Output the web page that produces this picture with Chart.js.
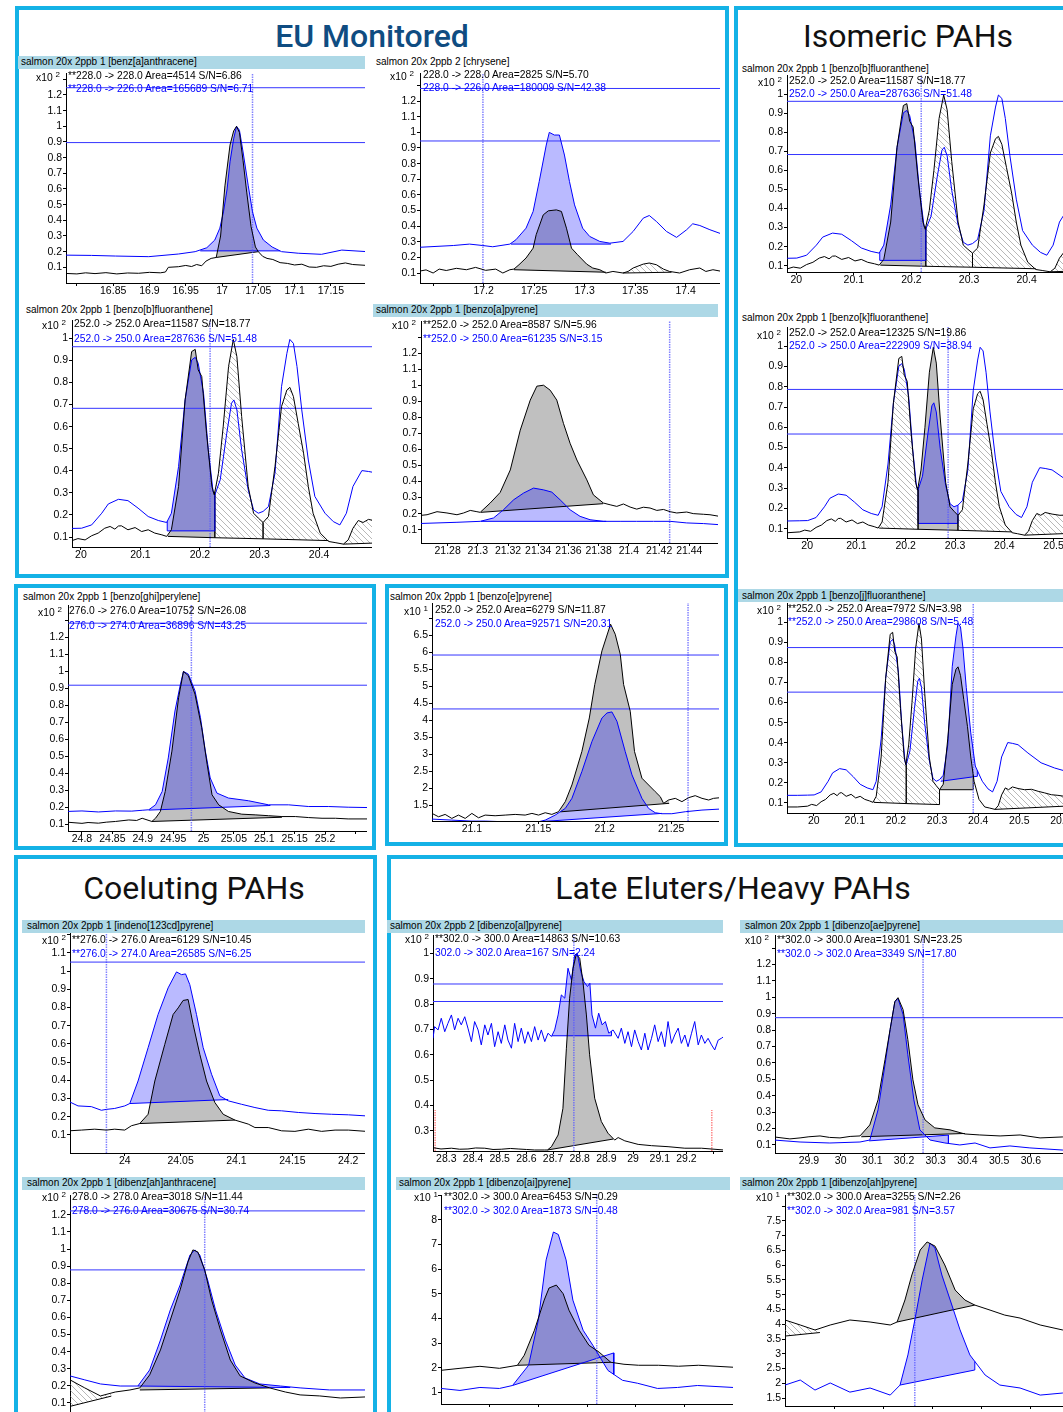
<!DOCTYPE html>
<html>
<head>
<meta charset="utf-8">
<script src="https://cdn.jsdelivr.net/npm/chart.js@4.4.1/dist/chart.umd.min.js"></script>
<style>
  body { margin:0; width:1063px; height:1412px; overflow:hidden; background:#fff; position:relative; font-family:"Liberation Sans", Arial, sans-serif; }
  .box { position:absolute; border:4px solid #14b2e6; box-sizing:border-box; }
  .ttl { position:absolute; font-family:Roboto, sans-serif; font-size:32px; line-height:40px; text-align:center; color:#111; white-space:nowrap; }
  .strip { position:absolute; height:13px; background:#add8e6; }
  .hd { position:absolute; font-size:10px; line-height:12px; white-space:nowrap; color:#000; z-index:3; }
  .an { position:absolute; font-size:10.3px; line-height:12px; white-space:nowrap; color:#000; z-index:3; }
  .an.b { color:#0000ff; }
  .xs { position:absolute; font-size:10.3px; line-height:12px; white-space:nowrap; z-index:3; }
  .xs sup { font-size:8px; vertical-align:4px; line-height:0; }
  canvas { position:absolute; z-index:2; }
</style>
</head>
<body>
<div class="box" style="left:15px;top:6px;width:714px;height:572px"></div>
<div class="box" style="left:734px;top:6px;width:345px;height:841px"></div>
<div class="box" style="left:14px;top:584px;width:362px;height:266px"></div>
<div class="box" style="left:385px;top:584px;width:343px;height:262px"></div>
<div class="box" style="left:14px;top:855px;width:363px;height:570px"></div>
<div class="box" style="left:387px;top:855px;width:692px;height:570px"></div>

<div class="ttl" style="left:15px;width:714px;top:16px;color:#0f4c81;font-weight:500">EU Monitored</div>
<div class="ttl" style="left:734px;width:348px;top:16px">Isomeric PAHs</div>
<div class="ttl" style="left:14px;width:360px;top:868px">Coeluting PAHs</div>
<div class="ttl" style="left:387px;width:692px;top:868px">Late Eluters/Heavy PAHs</div>

<div class="strip" style="left:18px;top:56px;width:347px"></div>
<div class="strip" style="left:373px;top:304px;width:345px"></div>
<div class="strip" style="left:738px;top:589px;width:330px"></div>
<div class="strip" style="left:22px;top:920px;width:343px"></div>
<div class="strip" style="left:387px;top:920px;width:336px"></div>
<div class="strip" style="left:22px;top:1177px;width:343px"></div>
<div class="strip" style="left:740px;top:920px;width:330px"></div>
<div class="strip" style="left:396px;top:1177px;width:334px"></div>
<div class="strip" style="left:740px;top:1177px;width:330px"></div>

<div class="hd" style="left:21px;top:56px">salmon 20x 2ppb 1 [benz[a]anthracene]</div>
<div class="hd" style="left:376px;top:56px">salmon 20x 2ppb 2 [chrysene]</div>
<div class="hd" style="left:26px;top:304px">salmon 20x 2ppb 1 [benzo[b]fluoranthene]</div>
<div class="hd" style="left:376px;top:304px">salmon 20x 2ppb 1 [benzo[a]pyrene]</div>
<div class="hd" style="left:742px;top:63px">salmon 20x 2ppb 1 [benzo[b]fluoranthene]</div>
<div class="hd" style="left:742px;top:312px">salmon 20x 2ppb 1 [benzo[k]fluoranthene]</div>
<div class="hd" style="left:742px;top:590px">salmon 20x 2ppb 1 [benzo[j]fluoranthene]</div>
<div class="hd" style="left:23px;top:591px">salmon 20x 2ppb 1 [benzo[ghi]perylene]</div>
<div class="hd" style="left:390px;top:591px">salmon 20x 2ppb 1 [benzo[e]pyrene]</div>
<div class="hd" style="left:27px;top:920px">salmon 20x 2ppb 1 [indeno[123cd]pyrene]</div>
<div class="hd" style="left:390px;top:920px">salmon 20x 2ppb 2 [dibenzo[al]pyrene]</div>
<div class="hd" style="left:27px;top:1177px">salmon 20x 2ppb 1 [dibenz[ah]anthracene]</div>
<div class="hd" style="left:745px;top:920px">salmon 20x 2ppb 1 [dibenzo[ae]pyrene]</div>
<div class="hd" style="left:399px;top:1177px">salmon 20x 2ppb 1 [dibenzo[ai]pyrene]</div>
<div class="hd" style="left:742px;top:1177px">salmon 20x 2ppb 1 [dibenzo[ah]pyrene]</div>

<div class="xs" style="left:36px;top:72px">x10 <sup>2</sup></div>
<div class="xs" style="left:390px;top:71px">x10 <sup>2</sup></div>
<div class="xs" style="left:42px;top:320px">x10 <sup>2</sup></div>
<div class="xs" style="left:392px;top:320px">x10 <sup>2</sup></div>
<div class="xs" style="left:758px;top:77px">x10 <sup>2</sup></div>
<div class="xs" style="left:757px;top:330px">x10 <sup>2</sup></div>
<div class="xs" style="left:757px;top:605px">x10 <sup>2</sup></div>
<div class="xs" style="left:38px;top:607px">x10 <sup>2</sup></div>
<div class="xs" style="left:404px;top:606px">x10 <sup>1</sup></div>
<div class="xs" style="left:42px;top:935px">x10 <sup>2</sup></div>
<div class="xs" style="left:405px;top:934px">x10 <sup>2</sup></div>
<div class="xs" style="left:42px;top:1192px">x10 <sup>2</sup></div>
<div class="xs" style="left:745px;top:935px">x10 <sup>2</sup></div>
<div class="xs" style="left:414px;top:1192px">x10 <sup>1</sup></div>
<div class="xs" style="left:756px;top:1192px">x10 <sup>1</sup></div>

<div class="an" style="left:68px;top:70px">**228.0 -&gt; 228.0 Area=4514 S/N=6.86</div>
<div class="an b" style="left:68px;top:83px">**228.0 -&gt; 226.0 Area=165689 S/N=6.71</div>
<div class="an" style="left:423px;top:69px">228.0 -&gt; 228.0 Area=2825 S/N=5.70</div>
<div class="an b" style="left:423px;top:82px">228.0 -&gt; 226.0 Area=180009 S/N=42.38</div>
<div class="an" style="left:74px;top:318px">252.0 -&gt; 252.0 Area=11587 S/N=18.77</div>
<div class="an b" style="left:74px;top:333px">252.0 -&gt; 250.0 Area=287636 S/N=51.48</div>
<div class="an" style="left:423px;top:319px">**252.0 -&gt; 252.0 Area=8587 S/N=5.96</div>
<div class="an b" style="left:423px;top:333px">**252.0 -&gt; 250.0 Area=61235 S/N=3.15</div>
<div class="an" style="left:789px;top:75px">252.0 -&gt; 252.0 Area=11587 S/N=18.77</div>
<div class="an b" style="left:789px;top:88px">252.0 -&gt; 250.0 Area=287636 S/N=51.48</div>
<div class="an" style="left:789px;top:327px">252.0 -&gt; 252.0 Area=12325 S/N=19.86</div>
<div class="an b" style="left:789px;top:340px">252.0 -&gt; 250.0 Area=222909 S/N=38.94</div>
<div class="an" style="left:788px;top:603px">**252.0 -&gt; 252.0 Area=7972 S/N=3.98</div>
<div class="an b" style="left:788px;top:616px">**252.0 -&gt; 250.0 Area=298608 S/N=5.48</div>
<div class="an" style="left:69px;top:605px">276.0 -&gt; 276.0 Area=10752 S/N=26.08</div>
<div class="an b" style="left:69px;top:620px">276.0 -&gt; 274.0 Area=36896 S/N=43.25</div>
<div class="an" style="left:435px;top:604px">252.0 -&gt; 252.0 Area=6279 S/N=11.87</div>
<div class="an b" style="left:435px;top:618px">252.0 -&gt; 250.0 Area=92571 S/N=20.31</div>
<div class="an" style="left:72px;top:934px">**276.0 -&gt; 276.0 Area=6129 S/N=10.45</div>
<div class="an b" style="left:72px;top:948px">**276.0 -&gt; 274.0 Area=26585 S/N=6.25</div>
<div class="an" style="left:435px;top:933px">**302.0 -&gt; 300.0 Area=14863 S/N=10.63</div>
<div class="an b" style="left:435px;top:947px">302.0 -&gt; 302.0 Area=167 S/N=2.24</div>
<div class="an" style="left:72px;top:1191px">278.0 -&gt; 278.0 Area=3018 S/N=11.44</div>
<div class="an b" style="left:72px;top:1205px">278.0 -&gt; 276.0 Area=30675 S/N=30.74</div>
<div class="an" style="left:777px;top:934px">**302.0 -&gt; 300.0 Area=19301 S/N=23.25</div>
<div class="an b" style="left:777px;top:948px">**302.0 -&gt; 302.0 Area=3349 S/N=17.80</div>
<div class="an" style="left:444px;top:1191px">**302.0 -&gt; 300.0 Area=6453 S/N=0.29</div>
<div class="an b" style="left:444px;top:1205px">**302.0 -&gt; 302.0 Area=1873 S/N=0.48</div>
<div class="an" style="left:787px;top:1191px">**302.0 -&gt; 300.0 Area=3255 S/N=2.26</div>
<div class="an b" style="left:787px;top:1205px">**302.0 -&gt; 302.0 Area=981 S/N=3.57</div>

<script>
// ---- tick values ----
const yTicks13 = [0.1,0.2,0.3,0.4,0.5,0.6,0.7,0.8,0.9,1,1.1,1.2,1.3];
const yTicks12 = [0.1,0.2,0.3,0.4,0.5,0.6,0.7,0.8,0.9,1,1.1,1.2];
const yTicks10 = [0.1,0.2,0.3,0.4,0.5,0.6,0.7,0.8,0.9,1];
const baaXTicks = [16.8,16.85,16.9,16.95,17,17.05,17.1,17.15];
const chryXTicks = [17.15,17.2,17.25,17.3,17.35,17.4];
const bkfXTicks = [20,20.1,20.2,20.3,20.4,20.5,20.6];
const bapXTicks = [21.28,21.3,21.32,21.34,21.36,21.38,21.4,21.42,21.44];
const ghiXTicks = [24.8,24.85,24.9,24.95,25,25.05,25.1,25.15,25.2,25.25];
const bepXTicks = [21.1,21.15,21.2,21.25];
const bepYTicks = [1.5,2,2.5,3,3.5,4,4.5,5,5.5,6,6.5,7];
const indXTicks = [23.95,24,24.05,24.1,24.15,24.2];
const dbalXTicks = [28.3,28.4,28.5,28.6,28.7,28.8,28.9,29,29.1,29.2,29.3];
const dbalYTicks = [0.3,0.4,0.5,0.6,0.7,0.8,0.9,1];
const dbahXTicks = [24.05,24.1,24.15,24.2,24.25];
const dbaeXTicks = [29.9,30,30.1,30.2,30.3,30.4,30.5,30.6];
const dbaiXTicks = [29.1,29.2,29.3,29.4,29.5];
const dbaiYTicks = [1,2,3,4,5,6,7,8,9];
const dbhpXTicks = [31.1,31.2,31.3,31.4,31.5];
const dbhpYTicks = [1.5,2,2.5,3,3.5,4,4.5,5,5.5,6,6.5,7,7.5,8];

// ---- benz[a]anthracene ----
const baaBlack = [[16.78,0.062],[16.8,0.058],[16.812,0.065],[16.825,0.06],[16.84,0.066],[16.855,0.058],[16.87,0.064],[16.885,0.062],[16.9,0.068],[16.915,0.065],[16.922,0.07],[16.926,0.1],[16.94,0.104],[16.95,0.112],[16.958,0.105],[16.965,0.118],[16.972,0.11],[16.978,0.14],[16.985,0.157],[16.992,0.163],[16.998,0.3],[17.004,0.62],[17.011,0.88],[17.016,0.97],[17.02,1.0],[17.024,0.96],[17.029,0.78],[17.034,0.58],[17.04,0.36],[17.046,0.23],[17.05,0.2],[17.056,0.17],[17.062,0.157],[17.07,0.15],[17.08,0.13],[17.09,0.125],[17.1,0.115],[17.11,0.12],[17.12,0.102],[17.13,0.1],[17.14,0.11],[17.15,0.106],[17.16,0.12],[17.17,0.128],[17.18,0.118],[17.2,0.112]];
const baaBlue = [[16.78,0.178],[16.82,0.176],[16.853,0.172],[16.899,0.168],[16.94,0.185],[16.963,0.2],[16.979,0.225],[16.99,0.274],[16.997,0.35],[17.002,0.454],[17.007,0.6],[17.011,0.773],[17.016,0.92],[17.02,1.0],[17.024,0.975],[17.029,0.836],[17.036,0.624],[17.042,0.454],[17.048,0.35],[17.057,0.274],[17.069,0.23],[17.082,0.2],[17.105,0.19],[17.137,0.183],[17.165,0.21],[17.2,0.2]];
const baaPeaks = [['blue',16.97,17.08,0.205,0.205,'blue'],['black',16.992,17.05,0.163,0.2,'gray']];
const baaLevels = [1.246,0.896];
const baaMarks = [17.042];

// ---- chrysene ----
const chryBlack = [[17.135,0.11],[17.143,0.12],[17.15,0.1],[17.156,0.125],[17.163,0.116],[17.173,0.13],[17.183,0.121],[17.192,0.136],[17.202,0.117],[17.212,0.125],[17.219,0.1],[17.226,0.121],[17.23,0.125],[17.235,0.153],[17.242,0.196],[17.249,0.259],[17.252,0.345],[17.259,0.472],[17.264,0.498],[17.272,0.504],[17.277,0.494],[17.282,0.387],[17.287,0.259],[17.293,0.217],[17.302,0.157],[17.308,0.132],[17.315,0.121],[17.321,0.1],[17.328,0.11],[17.338,0.1],[17.343,0.11],[17.348,0.132],[17.358,0.157],[17.364,0.164],[17.371,0.153],[17.378,0.125],[17.384,0.11],[17.394,0.1],[17.404,0.121],[17.414,0.132],[17.42,0.11],[17.427,0.121],[17.436,0.11]];
const chryBlue = [[17.135,0.264],[17.17,0.276],[17.186,0.285],[17.199,0.276],[17.209,0.268],[17.226,0.285],[17.232,0.313],[17.242,0.387],[17.249,0.494],[17.255,0.685],[17.262,0.919],[17.265,1.0],[17.27,0.983],[17.275,0.983],[17.28,0.855],[17.285,0.685],[17.29,0.536],[17.298,0.387],[17.305,0.334],[17.315,0.302],[17.325,0.291],[17.338,0.302],[17.348,0.366],[17.358,0.451],[17.364,0.468],[17.371,0.43],[17.381,0.366],[17.391,0.328],[17.401,0.377],[17.407,0.415],[17.414,0.404],[17.424,0.377],[17.436,0.349]];
const chryPeaks = [['blue',17.227,17.326,0.285,0.285,'blue'],['black',17.23,17.321,0.121,0.105,'gray'],['black',17.338,17.386,0.1,0.105,'hatch']];
const chryLevels = [1.281,0.945];
const chryMarks = [17.1993];

// ---- benzo[b], [k], [j]fluoranthene (same injection) ----
const bkfBlack = [[19.93,0.08],[19.96,0.08],[19.985,0.084],[19.995,0.093],[20.007,0.087],[20.018,0.106],[20.029,0.118],[20.04,0.14],[20.049,0.148],[20.057,0.136],[20.063,0.15],[20.068,0.151],[20.079,0.133],[20.091,0.143],[20.102,0.125],[20.113,0.133],[20.124,0.118],[20.136,0.11],[20.144,0.103],[20.152,0.133],[20.164,0.329],[20.175,0.721],[20.186,0.94],[20.192,0.95],[20.197,0.857],[20.203,0.827],[20.211,0.57],[20.22,0.329],[20.224,0.291],[20.231,0.389],[20.239,0.6],[20.248,0.872],[20.256,0.995],[20.262,0.917],[20.27,0.646],[20.281,0.329],[20.29,0.208],[20.298,0.186],[20.306,0.166],[20.315,0.193],[20.326,0.419],[20.337,0.691],[20.346,0.766],[20.351,0.778],[20.357,0.736],[20.365,0.615],[20.374,0.48],[20.382,0.329],[20.39,0.208],[20.402,0.118],[20.416,0.08],[20.427,0.075],[20.441,0.068],[20.449,0.087],[20.457,0.14],[20.466,0.175],[20.474,0.166],[20.483,0.18],[20.497,0.172],[20.513,0.166],[20.53,0.168],[20.546,0.158],[20.562,0.15],[20.578,0.141],[20.594,0.138],[20.61,0.133],[20.68,0.125]];
const bkfBlue = [[19.93,0.138],[19.96,0.138],[19.985,0.139],[20.001,0.14],[20.018,0.155],[20.035,0.208],[20.046,0.25],[20.063,0.271],[20.079,0.265],[20.096,0.231],[20.113,0.193],[20.13,0.175],[20.144,0.166],[20.152,0.208],[20.164,0.419],[20.175,0.721],[20.186,0.902],[20.192,0.914],[20.197,0.887],[20.206,0.751],[20.214,0.495],[20.222,0.306],[20.225,0.291],[20.234,0.359],[20.245,0.57],[20.253,0.706],[20.257,0.721],[20.262,0.676],[20.27,0.495],[20.281,0.314],[20.29,0.223],[20.298,0.208],[20.306,0.216],[20.315,0.238],[20.326,0.389],[20.337,0.781],[20.346,0.932],[20.351,0.995],[20.357,0.977],[20.363,0.872],[20.371,0.676],[20.382,0.449],[20.393,0.284],[20.41,0.208],[20.424,0.17],[20.435,0.155],[20.446,0.208],[20.457,0.329],[20.472,0.401],[20.483,0.397],[20.497,0.39],[20.521,0.349],[20.553,0.3],[20.586,0.274],[20.61,0.26],[20.68,0.24]];
const bbfPeaks = [['blue',20.145,20.225,0.128,0.128,'blue'],['black',20.146,20.225,0.103,0.097,'gray'],['black',20.225,20.306,0.097,0.092,'hatch'],['black',20.306,20.416,0.092,0.084,'hatch'],['black',20.441,20.62,0.068,0.085,'hatch']];
const bkfPeaks = [['black',20.146,20.225,0.103,0.097,'hatch'],['black',20.225,20.306,0.097,0.092,'gray'],['blue',20.225,20.306,0.126,0.126,'blue'],['black',20.306,20.416,0.092,0.084,'hatch'],['black',20.441,20.62,0.068,0.085,'hatch']];
const bjfPeaks = [['black',20.146,20.225,0.103,0.097,'hatch'],['black',20.225,20.306,0.097,0.092,'hatch'],['black',20.306,20.388,0.166,0.166,'gray'],['blue',20.309,20.398,0.208,0.233,'blue'],['black',20.441,20.62,0.068,0.085,'hatch']];
const bbfLevels = [0.962,0.683];
const bkfLevels = [0.787,0.567];
const bjfLevels = [0.874,0.652];
const bbfMarks = [20.217];
const bkfMarks = [20.286];
const bjfMarks = [20.388];

// ---- benzo[a]pyrene ----
const bapBlack = [[21.26,0.187],[21.2664,0.193],[21.273,0.212],[21.2796,0.204],[21.2862,0.193],[21.2906,0.204],[21.295,0.22],[21.2994,0.212],[21.3016,0.208],[21.3082,0.266],[21.3148,0.332],[21.3215,0.472],[21.3281,0.72],[21.3347,0.907],[21.3391,0.994],[21.3435,1.0],[21.3479,0.969],[21.3523,0.907],[21.3567,0.762],[21.3611,0.638],[21.3656,0.534],[21.3722,0.41],[21.3765,0.317],[21.3831,0.266],[21.3876,0.255],[21.392,0.245],[21.3964,0.26],[21.4008,0.241],[21.4052,0.228],[21.4096,0.24],[21.414,0.235],[21.4185,0.22],[21.4229,0.226],[21.4273,0.212],[21.4317,0.204],[21.4383,0.21],[21.4426,0.2],[21.4493,0.196],[21.4537,0.193],[21.46,0.183]];
const bapBlue = [[21.26,0.138],[21.2862,0.146],[21.3016,0.152],[21.3104,0.173],[21.317,0.224],[21.3237,0.286],[21.3303,0.328],[21.3369,0.359],[21.3435,0.348],[21.349,0.334],[21.3545,0.286],[21.3611,0.224],[21.3677,0.183],[21.3743,0.162],[21.3831,0.152],[21.3942,0.152],[21.4052,0.152],[21.4163,0.152],[21.4273,0.152],[21.4383,0.142],[21.4493,0.138],[21.46,0.131]];
const bapPeaks = [['blue',21.302,21.385,0.152,0.152,'blue'],['black',21.302,21.383,0.208,0.262,'gray']];
const bapLevels = [];
const bapMarks = [21.427];

// ---- benzo[ghi]perylene ----
const ghiBlack = [[24.775,0.112],[24.8,0.105],[24.81,0.11],[24.827,0.106],[24.84,0.112],[24.855,0.116],[24.877,0.125],[24.89,0.122],[24.899,0.135],[24.915,0.116],[24.921,0.135],[24.929,0.175],[24.937,0.293],[24.948,0.53],[24.959,0.845],[24.967,0.999],[24.975,0.974],[24.986,0.865],[24.997,0.668],[25.006,0.451],[25.014,0.273],[25.025,0.214],[25.041,0.175],[25.063,0.159],[25.085,0.155],[25.107,0.15],[25.129,0.145],[25.151,0.145],[25.173,0.139],[25.195,0.135],[25.217,0.135],[25.238,0.131],[25.27,0.131]];
const ghiBlue = [[24.775,0.175],[24.8,0.178],[24.827,0.172],[24.855,0.178],[24.882,0.177],[24.899,0.182],[24.91,0.185],[24.921,0.214],[24.932,0.293],[24.942,0.49],[24.953,0.766],[24.962,0.924],[24.967,0.999],[24.975,0.983],[24.986,0.885],[24.995,0.727],[25.003,0.53],[25.011,0.372],[25.022,0.283],[25.041,0.254],[25.074,0.238],[25.107,0.214],[25.14,0.214],[25.173,0.204],[25.206,0.204],[25.238,0.2],[25.27,0.198]];
const ghiPeaks = [['blue',24.91,25.11,0.183,0.21,'blue'],['black',24.915,25.129,0.116,0.141,'gray']];
const ghiLevels = [1.283,0.918];
const ghiMarks = [24.98];

// ---- benzo[e]pyrene ----
const bepBlack = [[21.07,1.254],[21.0749,1.155],[21.0799,1.224],[21.0849,1.106],[21.0899,1.204],[21.095,1.106],[21.1,1.254],[21.105,1.125],[21.11,1.204],[21.1175,1.185],[21.1251,1.204],[21.1326,1.224],[21.1401,1.204],[21.1452,1.254],[21.1502,1.204],[21.1552,1.273],[21.1602,1.224],[21.1652,1.303],[21.1703,1.599],[21.1753,2.092],[21.1828,3.078],[21.1884,4.064],[21.1925,5.05],[21.1979,6.04],[21.2044,6.826],[21.2079,6.53],[21.2117,5.938],[21.2142,5.05],[21.2192,4.261],[21.2224,3.078],[21.228,2.29],[21.238,1.894],[21.2418,1.746],[21.2443,1.55],[21.248,1.648],[21.2531,1.697],[21.2581,1.6],[21.2631,1.717],[21.2681,1.776],[21.2732,1.697],[21.2782,1.648],[21.2819,1.697],[21.287,1.717]];
const bepBlue = [[21.07,1.086],[21.0849,1.056],[21.1,1.027],[21.11,1.027],[21.1251,1.007],[21.1401,1.007],[21.1502,1.007],[21.1552,1.056],[21.1627,1.204],[21.1703,1.401],[21.1753,1.697],[21.1828,2.486],[21.1904,3.374],[21.1979,4.064],[21.2017,4.212],[21.2054,4.242],[21.2092,3.965],[21.2154,3.078],[21.2205,2.388],[21.228,1.697],[21.233,1.401],[21.238,1.273],[21.243,1.244],[21.2505,1.244],[21.2606,1.303],[21.2732,1.352],[21.287,1.382]];
const bepPeaks = [['blue',21.1502,21.243,1.007,1.254,'blue'],['black',21.1665,21.2485,1.3,1.55,'gray']];
const bepLevels = [5.918,4.33];
const bepMarks = [21.2627];

// ---- indeno[123cd]pyrene ----
const indBlack = [[23.95,0.122],[23.9612,0.126],[23.9731,0.131],[23.9836,0.126],[23.991,0.131],[24.0,0.126],[24.006,0.15],[24.0134,0.162],[24.0209,0.213],[24.0269,0.396],[24.0358,0.597],[24.0433,0.762],[24.0478,0.798],[24.0522,0.839],[24.0567,0.844],[24.0612,0.707],[24.0672,0.542],[24.0732,0.396],[24.0806,0.278],[24.0881,0.213],[24.0986,0.181],[24.1105,0.159],[24.1165,0.14],[24.1284,0.14],[24.1404,0.122],[24.1523,0.119],[24.1643,0.131],[24.1762,0.119],[24.1882,0.126],[24.2001,0.126],[24.216,0.119]];
const indBlue = [[23.95,0.283],[23.9582,0.259],[23.9701,0.255],[23.9791,0.235],[23.9836,0.24],[23.991,0.245],[24.0,0.259],[24.0045,0.272],[24.0119,0.396],[24.0209,0.579],[24.0298,0.762],[24.0388,0.908],[24.0463,0.996],[24.0508,0.981],[24.0544,0.985],[24.0582,0.926],[24.0642,0.762],[24.0702,0.579],[24.0777,0.433],[24.0851,0.314],[24.0926,0.287],[24.1045,0.268],[24.1165,0.25],[24.1284,0.235],[24.1404,0.232],[24.1553,0.223],[24.1703,0.217],[24.1852,0.213],[24.2001,0.21],[24.216,0.204]];
const indPeaks = [['blue',24.0045,24.0926,0.272,0.294,'blue'],['black',24.0134,24.0986,0.162,0.181,'gray']];
const indLevels = [1.05];
const indMarks = [23.9836];

// ---- dibenzo[al]pyrene ----
const dbalBlack = [[28.25,0.234],[28.28,0.229],[28.319,0.232],[28.35,0.228],[28.381,0.229],[28.41,0.233],[28.444,0.232],[28.475,0.227],[28.506,0.228],[28.54,0.231],[28.569,0.229],[28.6,0.227],[28.631,0.225],[28.669,0.225],[28.679,0.225],[28.694,0.238],[28.719,0.284],[28.737,0.389],[28.75,0.626],[28.762,0.823],[28.775,0.941],[28.787,0.996],[28.8,0.98],[28.812,0.888],[28.825,0.757],[28.837,0.6],[28.856,0.429],[28.881,0.337],[28.906,0.291],[28.931,0.264],[28.944,0.274],[28.969,0.261],[29.019,0.247],[29.069,0.242],[29.131,0.238],[29.194,0.232],[29.256,0.232],[29.34,0.225]];
const dbalBlue = [[28.25,0.665],[28.256,0.711],[28.269,0.698],[28.281,0.744],[28.294,0.691],[28.306,0.724],[28.319,0.757],[28.331,0.698],[28.344,0.744],[28.356,0.718],[28.369,0.75],[28.381,0.705],[28.394,0.652],[28.406,0.731],[28.419,0.698],[28.431,0.639],[28.444,0.718],[28.456,0.678],[28.469,0.724],[28.481,0.632],[28.494,0.691],[28.506,0.645],[28.519,0.718],[28.531,0.658],[28.544,0.626],[28.556,0.724],[28.569,0.652],[28.581,0.705],[28.594,0.645],[28.606,0.691],[28.619,0.652],[28.631,0.711],[28.644,0.658],[28.656,0.698],[28.669,0.652],[28.681,0.685],[28.694,0.672],[28.706,0.698],[28.719,0.757],[28.731,0.836],[28.744,0.823],[28.756,0.941],[28.769,0.895],[28.781,0.993],[28.791,1.0],[28.804,0.928],[28.816,0.888],[28.829,0.869],[28.838,0.882],[28.846,0.757],[28.859,0.705],[28.871,0.764],[28.884,0.718],[28.896,0.731],[28.909,0.685],[28.925,0.698],[28.944,0.665],[28.956,0.705],[28.969,0.645],[28.981,0.691],[28.994,0.632],[29.006,0.698],[29.019,0.652],[29.031,0.619],[29.044,0.685],[29.056,0.619],[29.069,0.665],[29.081,0.718],[29.094,0.652],[29.106,0.691],[29.119,0.632],[29.131,0.731],[29.144,0.645],[29.156,0.678],[29.169,0.705],[29.181,0.645],[29.194,0.678],[29.206,0.632],[29.219,0.685],[29.231,0.731],[29.244,0.639],[29.256,0.678],[29.269,0.645],[29.281,0.665],[29.294,0.639],[29.306,0.619],[29.319,0.658],[29.331,0.665],[29.34,0.672]];
const dbalPeaks = [['blue',28.696,28.919,0.675,0.675,'blue'],['black',28.679,28.925,0.225,0.268,'gray']];
const dbalLevels = [0.879,0.81];
const dbalMarks = [28.778];
const dbalLimits = [[28.258,0.383],[29.295,0.383]];

// ---- dibenz[ah]anthracene ----
const dbahBlack = [[24.0,0.235],[24.015,0.188],[24.031,0.141],[24.046,0.164],[24.061,0.176],[24.071,0.188],[24.081,0.264],[24.092,0.41],[24.102,0.585],[24.112,0.761],[24.12,0.925],[24.125,0.995],[24.13,0.983],[24.137,0.878],[24.144,0.702],[24.153,0.527],[24.163,0.351],[24.173,0.258],[24.188,0.217],[24.203,0.188],[24.219,0.164],[24.234,0.147],[24.254,0.141],[24.275,0.129],[24.3,0.135]];
const dbahBlue = [[24.0,0.258],[24.015,0.235],[24.031,0.211],[24.051,0.199],[24.069,0.199],[24.081,0.293],[24.092,0.468],[24.102,0.644],[24.112,0.79],[24.122,0.965],[24.127,0.995],[24.132,0.965],[24.14,0.819],[24.148,0.644],[24.158,0.468],[24.168,0.322],[24.178,0.246],[24.193,0.211],[24.214,0.199],[24.234,0.188],[24.264,0.176],[24.3,0.176]];
const dbahPeaks = [['blue',24.069,24.224,0.199,0.19,'blue'],['black',24.071,24.203,0.176,0.188,'gray'],['black',24.0,24.042,0.08,0.14,'hatch']];
const dbahLevels = [1.223,0.878];
const dbahMarks = [24.137];

// ---- dibenzo[ae]pyrene ----
const dbaeBlack = [[29.79,0.149],[29.84,0.137],[29.872,0.143],[29.9,0.15],[29.935,0.155],[29.965,0.146],[29.998,0.143],[30.03,0.152],[30.061,0.155],[30.092,0.222],[30.118,0.375],[30.14,0.62],[30.156,0.803],[30.171,0.974],[30.181,0.998],[30.197,0.925],[30.212,0.742],[30.228,0.497],[30.244,0.345],[30.266,0.253],[30.297,0.204],[30.345,0.192],[30.392,0.167],[30.439,0.161],[30.503,0.155],[30.566,0.161],[30.629,0.143],[30.701,0.149],[30.76,0.145]];
const dbaeBlue = [[29.79,0.13],[29.872,0.118],[29.966,0.112],[30.061,0.118],[30.092,0.13],[30.118,0.314],[30.14,0.589],[30.156,0.803],[30.171,0.974],[30.181,0.993],[30.197,0.895],[30.212,0.65],[30.231,0.375],[30.25,0.192],[30.282,0.13],[30.329,0.112],[30.376,0.1],[30.424,0.112],[30.471,0.082],[30.534,0.094],[30.597,0.082],[30.701,0.069],[30.76,0.07]];
const dbaePeaks = [['blue',30.09,30.34,0.125,0.16,'blue'],['black',30.065,30.392,0.15,0.17,'gray']];
const dbaeLevels = [0.876];
const dbaeMarks = [30.26];

// ---- dibenzo[ai]pyrene ----
const dbaiBlack = [[29.0,1.894],[29.039,1.976],[29.08,2.057],[29.12,1.976],[29.157,2.098],[29.171,2.504],[29.192,3.52],[29.212,4.74],[29.222,5.23],[29.237,5.35],[29.251,5.0],[29.263,4.33],[29.284,3.52],[29.304,2.91],[29.325,2.63],[29.349,2.22],[29.376,2.14],[29.406,2.1],[29.447,2.1],[29.488,2.06],[29.529,2.1],[29.6,2.02]];
const dbaiBlue = [[29.0,1.16],[29.039,1.08],[29.08,1.2],[29.12,1.16],[29.147,1.28],[29.18,2.1],[29.2,3.93],[29.216,6.37],[29.231,7.5],[29.241,7.4],[29.257,6.37],[29.271,4.74],[29.292,3.52],[29.312,2.91],[29.343,1.89],[29.373,1.49],[29.404,1.37],[29.445,1.16],[29.486,1.2],[29.527,1.28],[29.6,1.2]];
const dbaiPeaks = [['blue',29.147,29.355,1.28,2.6,'blue'],['black',29.157,29.349,2.098,2.22,'gray']];
const dbaiLevels = [];
const dbaiMarks = [29.32];

// ---- dibenzo[ah]pyrene ----
const dbhpBlack = [[31.0,4.144],[31.031,3.975],[31.061,3.805],[31.092,3.975],[31.132,4.144],[31.173,4.076],[31.214,3.975],[31.228,4.076],[31.244,4.822],[31.258,5.67],[31.275,6.517],[31.289,6.788],[31.305,6.65],[31.325,6.01],[31.346,5.16],[31.366,4.82],[31.386,4.65],[31.417,4.48],[31.447,4.31],[31.478,4.21],[31.519,3.975],[31.565,3.805],[31.6,3.74]];
const dbhpBlue = [[31.0,1.94],[31.031,2.11],[31.061,1.77],[31.092,2.01],[31.132,1.7],[31.173,1.84],[31.214,1.6],[31.234,1.94],[31.25,2.96],[31.264,4.14],[31.279,5.5],[31.295,6.75],[31.305,6.58],[31.319,5.67],[31.336,4.82],[31.356,3.81],[31.376,2.96],[31.407,2.28],[31.437,1.94],[31.478,1.84],[31.519,1.6],[31.565,1.67],[31.6,1.7]];
const dbhpPeaks = [['blue',31.234,31.386,1.94,2.45,'blue'],['black',31.228,31.386,4.076,4.65,'gray'],['black',31.0,31.071,3.6,3.72,'hatch']];
const dbhpLevels = [];
const dbhpMarks = [31.264];

// ---- drawing ----
const hatch = (function () {
  const c = document.createElement('canvas');
  c.width = 6; c.height = 6;
  const g = c.getContext('2d');
  g.strokeStyle = '#a6a6a6'; g.lineWidth = 0.8;
  g.beginPath();
  g.moveTo(0, 0); g.lineTo(6, 6);
  g.moveTo(-1, 5); g.lineTo(1, 7);
  g.moveTo(5, -1); g.lineTo(7, 1);
  g.stroke();
  return g.createPattern(c, 'repeat');
})();
const fills = { blue: 'rgba(0,0,255,0.27)', gray: '#c0c0c0', hatch: hatch };
const tickFont = { family: '"Liberation Sans", Arial, sans-serif', size: 10.5 };

function valueAt(tr, x) {
  if (x <= tr[0][0]) return tr[0][1];
  for (let i = 1; i < tr.length; i++) {
    const a = tr[i - 1], b = tr[i];
    if (x <= b[0]) return a[1] + (b[1] - a[1]) * (x - a[0]) / (b[0] - a[0]);
  }
  return tr[tr.length - 1][1];
}
function part(tr, x1, x2) {
  const pts = [{ x: x1, y: valueAt(tr, x1) }];
  tr.forEach(p => { if (p[0] > x1 && p[0] < x2) pts.push({ x: p[0], y: p[1] }); });
  pts.push({ x: x2, y: valueAt(tr, x2) });
  return pts;
}
function line(data, color, width, order, dash) {
  return { data: data, borderColor: color, borderWidth: width, pointRadius: 0, fill: false, order: order, borderDash: dash || [], tension: 0 };
}
function fmt(v) { return String(+v.toFixed(3)); }

function panel(lay, black, blue, peaks, levels, marks, limits) {
  const [L, T, R, B] = lay.box;
  const W = 45, H = 20;
  const ds = [];
  ds.push(line(black.map(p => ({ x: p[0], y: p[1] })), '#000', 1, 0));
  ds.push(line(blue.map(p => ({ x: p[0], y: p[1] })), '#0000ff', 1, 0));
  levels.forEach(v => ds.push(line([{ x: lay.x[0], y: v }, { x: lay.x[1], y: v }], '#3535ff', 1, 1)));
  marks.forEach(v => ds.push(line([{ x: v, y: lay.y[0] }, { x: v, y: lay.y[1] }], 'rgba(90,90,255,0.75)', 1.5, 1, [1.5, 1])));
  (limits || []).forEach(m => ds.push(line([{ x: m[0], y: lay.y[0] }, { x: m[0], y: m[1] }], 'rgba(255,60,60,0.6)', 1.5, 1, [1.5, 1])));
  peaks.forEach(pk => {
    const [src, x1, x2, b1, b2, kind] = pk;
    const tr = src === 'blue' ? blue : black;
    const edge = src === 'blue' ? '#0000ff' : '#000';
    const base = ds.length;
    ds.push(line([{ x: x1, y: b1 }, { x: x2, y: b2 }], edge, 1, 1));
    const f = line(part(tr, x1, x2), 'rgba(0,0,0,0)', 0, kind === 'blue' ? 2 : 3);
    f.fill = { target: base };
    f.backgroundColor = fills[kind];
    ds.push(f);
    const gap = 0.02 * (lay.y[1] - lay.y[0]);
    [[x1, b1], [x2, b2]].forEach(([x, b]) => {
      const t = valueAt(tr, x);
      if (Math.abs(t - b) > gap) ds.push(line([{ x: x, y: b }, { x: x, y: t }], edge, 1, 1));
    });
  });

  const cv = document.createElement('canvas');
  cv.width = R - L + W;
  cv.height = B - T + H;
  cv.style.left = (L - W) + 'px';
  cv.style.top = T + 'px';
  document.body.appendChild(cv);
  const blank = lay.blank || [];
  const label = v => (lay.noX && Math.abs(v) > 10) || blank.includes(v) ? '' : fmt(v);
  const inX = v => v >= lay.x[0] && v <= lay.x[1];
  const inY = v => v >= lay.y[0] && v <= lay.y[1];
  new Chart(cv, {
    type: 'line',
    data: { datasets: ds },
    options: {
      responsive: false, animation: false, devicePixelRatio: 1, events: [],
      layout: { padding: 0 },
      plugins: { legend: { display: false }, tooltip: { enabled: false } },
      scales: {
        x: {
          type: 'linear', min: lay.x[0], max: lay.x[1],
          afterBuildTicks: ax => { ax.ticks = lay.xt.filter(inX).map(v => ({ value: v })); },
          afterFit: ax => { ax.height = H; ax.paddingLeft = 0; ax.paddingRight = 0; },
          ticks: { autoSkip: false, maxRotation: 0, minRotation: 0, padding: -1, color: '#000', font: tickFont, callback: label },
          grid: { drawOnChartArea: false, drawTicks: true, tickLength: 3, tickColor: '#000', color: '#000' },
          border: { color: '#000', width: 1 }
        },
        y: {
          type: 'linear', min: lay.y[0], max: lay.y[1],
          afterBuildTicks: ax => { ax.ticks = lay.yt.filter(inY).map(v => ({ value: v })); },
          afterFit: ax => { ax.width = W; ax.paddingTop = 0; ax.paddingBottom = 0; },
          ticks: { autoSkip: false, padding: 1, color: '#000', font: tickFont, callback: v => blank.includes(v) ? '' : fmt(v) },
          grid: { drawOnChartArea: false, drawTicks: true, tickLength: 3, tickColor: '#000', color: '#000' },
          border: { color: '#000', width: 1 }
        }
      }
    }
  });
}

panel({ box: [66, 73, 365, 283], x: [16.785, 17.197], y: [0, 1.34], xt: baaXTicks, yt: yTicks13, blank: [16.8, 1.3] }, baaBlack, baaBlue, baaPeaks, baaLevels, baaMarks);
panel({ box: [420, 73, 720, 283], x: [17.137, 17.434], y: [0.036, 1.38], xt: chryXTicks, yt: yTicks13, blank: [17.15, 1.3] }, chryBlack, chryBlue, chryPeaks, chryLevels, chryMarks);
panel({ box: [72, 320, 372, 547], x: [19.985, 20.489], y: [0.055, 1.083], xt: bkfXTicks, yt: yTicks10 }, bkfBlack, bkfBlue, bbfPeaks, bbfLevels, bbfMarks);
panel({ box: [421, 321, 718, 543], x: [21.2624, 21.459], y: [0.017, 1.4], xt: bapXTicks, yt: yTicks13, blank: [1.3] }, bapBlack, bapBlue, bapPeaks, bapLevels, bapMarks);
panel({ box: [787, 75, 1090, 272], x: [19.984, 20.51], y: [0.067, 1.1], xt: bkfXTicks, yt: yTicks10 }, bkfBlack, bkfBlue, bbfPeaks, bbfLevels, bbfMarks);
panel({ box: [787, 327, 1090, 538], x: [19.959, 20.574], y: [0.054, 1.095], xt: bkfXTicks, yt: yTicks10 }, bkfBlack, bkfBlue, bkfPeaks, bkfLevels, bkfMarks);
panel({ box: [787, 603, 1090, 813], x: [19.935, 20.672], y: [0.05, 1.096], xt: bkfXTicks, yt: yTicks10 }, bkfBlack, bkfBlue, bjfPeaks, bjfLevels, bjfMarks);
panel({ box: [68, 605, 367, 831], x: [24.777, 25.269], y: [0.06, 1.39], xt: ghiXTicks, yt: yTicks13, blank: [25.25, 1.3] }, ghiBlack, ghiBlue, ghiPeaks, ghiLevels, ghiMarks);
panel({ box: [432, 603, 719, 821], x: [21.07, 21.286], y: [1.03, 7.45], xt: bepXTicks, yt: bepYTicks, blank: [7] }, bepBlack, bepBlue, bepPeaks, bepLevels, bepMarks);
panel({ box: [70, 933, 365, 1153], x: [23.951, 24.215], y: [0, 1.21], xt: indXTicks, yt: yTicks12, blank: [23.95, 1.2] }, indBlack, indBlue, indPeaks, indLevels, indMarks);
panel({ box: [433, 935, 723, 1151], x: [28.25, 29.337], y: [0.221, 1.072], xt: dbalXTicks, yt: dbalYTicks, blank: [29.3] }, dbalBlack, dbalBlue, dbalPeaks, dbalLevels, dbalMarks, dbalLimits);
panel({ box: [70, 1195, 365, 1418], x: [24.0, 24.3], y: [0.012, 1.316], xt: dbahXTicks, yt: yTicks12, noX: true }, dbahBlack, dbahBlue, dbahPeaks, dbahLevels, dbahMarks);
panel({ box: [775, 935, 1080, 1153], x: [29.793, 30.755], y: [0.051, 1.38], xt: dbaeXTicks, yt: yTicks13, blank: [1.3] }, dbaeBlack, dbaeBlue, dbaePeaks, dbaeLevels, dbaeMarks);
panel({ box: [441, 1195, 733, 1404], x: [29.0, 29.6], y: [0.53, 9.0], xt: dbaiXTicks, yt: dbaiYTicks, blank: [9], noX: true }, dbaiBlack, dbaiBlue, dbaiPeaks, dbaiLevels, dbaiMarks);
panel({ box: [785, 1195, 1080, 1406], x: [31.0, 31.6], y: [1.23, 8.38], xt: dbhpXTicks, yt: dbhpYTicks, blank: [8], noX: true }, dbhpBlack, dbhpBlue, dbhpPeaks, dbhpLevels, dbhpMarks);
</script>
</body>
</html>
